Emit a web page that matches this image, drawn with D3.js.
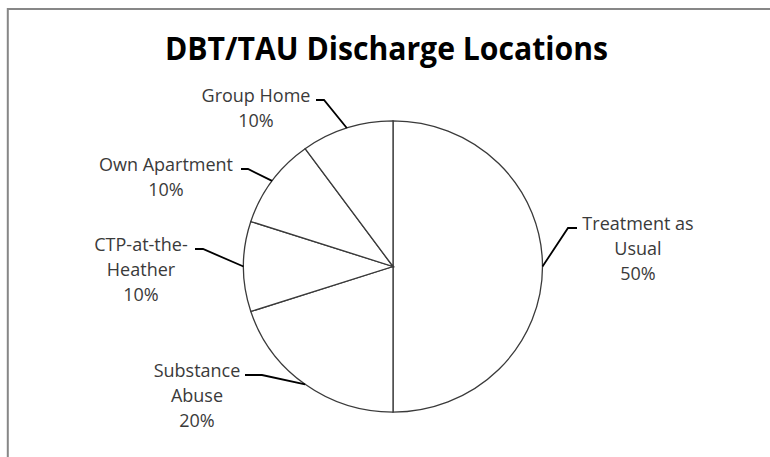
<!DOCTYPE html>
<html>
<head>
<meta charset="utf-8">
<script src="https://cdn.jsdelivr.net/npm/d3@7"></script>
<style>
  body { margin: 0; background: #fff; }
  svg { display: block; }
</style>
</head>
<body>
<svg id="canvas" width="770" height="457"></svg>
<script>
// chart data
let title = 'DBT/TAU Discharge Locations'
let categories = ['Treatment as Usual', 'Substance Abuse', 'CTP-at-the-Heather', 'Own Apartment', 'Group Home']
let values = [50, 20, 10, 10, 10]
// how each category name wraps in its label
let labelLines = [['Treatment as', 'Usual'], ['Substance', 'Abuse'], ['CTP-at-the-', 'Heather'], ['Own Apartment'], ['Group Home']]

// label placement (leader elbow, short tail end, text centre)
let labelLayout = [
    { elbow: [568, 228], tail: 577, textX: 638 },
    { elbow: [262, 375], tail: 245, textX: 197 },
    { elbow: [203, 249], tail: 195, textX: 141 },
    { elbow: [248, 169], tail: 241, textX: 166 },
    { elbow: [324, 100], tail: 316, textX: 256 }
]

let canvas = d3.select('#canvas')
let cx = 393, cy = 266.5, rx = 149.5, ry = 145.6
let lineGap = 25

// outer frame (only left and top edges are visible in the picture)
canvas.append('rect')
    .attr('x', 7.8).attr('y', 9)
    .attr('width', 800).attr('height', 500)
    .attr('fill', 'none')
    .attr('stroke', '#878787')
    .attr('stroke-width', 2)

canvas.append('text')
    .attr('x', 386.5).attr('y', 60)
    .attr('text-anchor', 'middle')
    .attr('font-family', 'Open Sans, sans-serif')
    .attr('font-weight', 'bold')
    .attr('font-size', 33)
    .attr('textLength', 443)
    .attr('lengthAdjust', 'spacingAndGlyphs')
    .attr('fill', '#000')
    .text(title)

let data = categories.map((c, i) => ({ name: c, value: values[i], lines: labelLines[i], layout: labelLayout[i] }))
let total = d3.sum(values)
let pct = d3.format('.0%')

let pie = d3.pie().sort(null).value(d => d.value)
let arcs = pie(data)
let arc = d3.arc().innerRadius(0).outerRadius(rx)

let pieGroup = canvas.append('g')
    .attr('transform', `translate(${cx},${cy}) scale(1,${ry / rx})`)

pieGroup.selectAll('path')
    .data(arcs)
    .enter()
    .append('path')
    .attr('d', arc)
    .attr('fill', '#fff')
    .attr('stroke', '#3a3a3a')
    .attr('stroke-width', 1.3)
    .attr('vector-effect', 'non-scaling-stroke')

// leader lines go from the middle of each slice's rim to its elbow
let rimPoint = (d) => {
    let a = (d.startAngle + d.endAngle) / 2
    return [cx + rx * Math.sin(a), cy - ry * Math.cos(a)]
}

let labels = canvas.selectAll('g.label')
    .data(arcs)
    .enter()
    .append('g')
    .attr('class', 'label')

labels.append('polyline')
    .attr('points', d => {
        let p = rimPoint(d)
        let L = d.data.layout
        return [p, L.elbow, [L.tail, L.elbow[1]]].map(q => q.join(',')).join(' ')
    })
    .attr('fill', 'none')
    .attr('stroke', '#000')
    .attr('stroke-width', 1.8)

labels.each(function (d) {
    let L = d.data.layout
    let lines = d.data.lines.concat([pct(d.data.value / total)])
    let t = d3.select(this).append('text')
        .attr('text-anchor', 'middle')
        .attr('font-family', 'Open Sans, sans-serif')
        .attr('font-size', 18)
        .attr('fill', '#3a3a3a')
    lines.forEach((s, i) => {
        t.append('tspan')
            .attr('x', L.textX)
            .attr('y', L.elbow[1] + 2 + i * lineGap)
            .text(s)
    })
})
</script>
</body>
</html>
